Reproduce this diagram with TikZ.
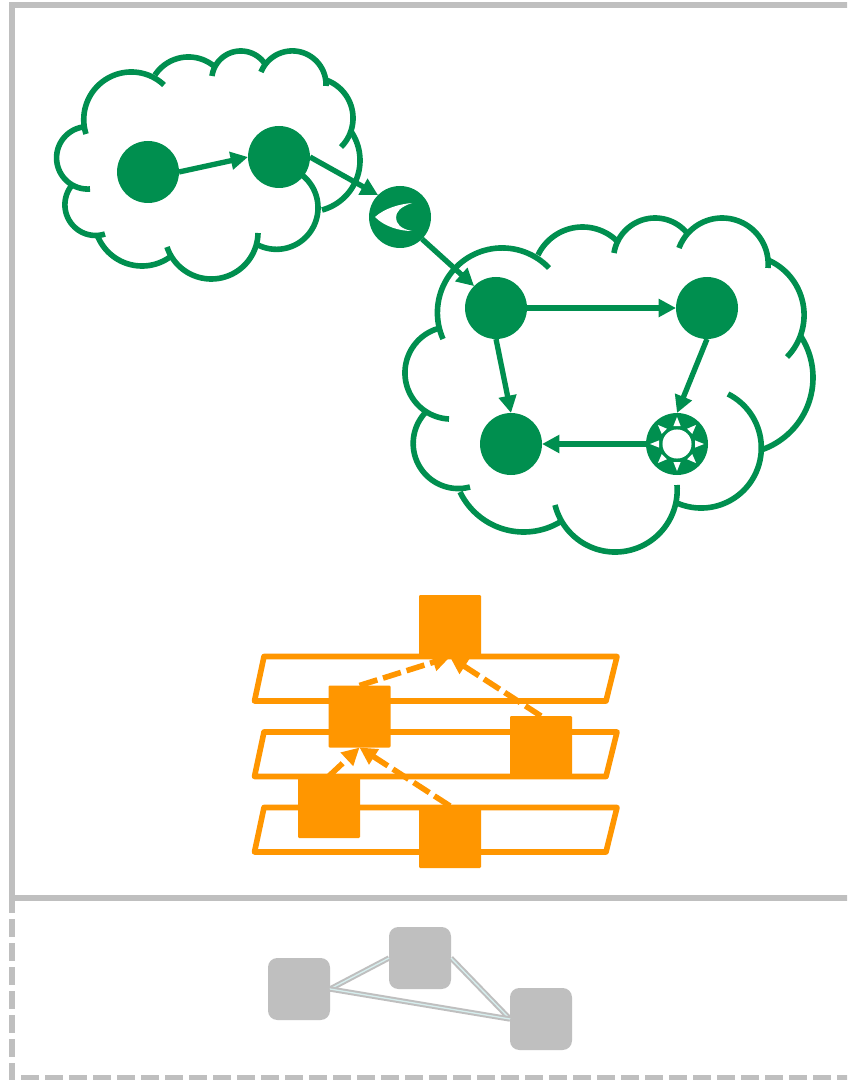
\documentclass[tikz,border=0pt]{standalone}
\usetikzlibrary{arrows.meta}
\definecolor{cgreen}{HTML}{008F4F}
\definecolor{corange}{HTML}{FF9600}
\definecolor{cgray}{HTML}{BFBFBF}
\definecolor{clink}{HTML}{D6EEEE}
\tikzset{
  x=0.75pt,y=-0.75pt,
  cloudarc/.style={draw=cgreen,line width=4.2pt,line cap=butt},
  greennode/.style={circle,fill=cgreen,minimum size=46.5pt,inner sep=0pt,outer sep=0pt},
  greenlink/.style={draw=cgreen,line width=4pt,-{Triangle[length=13pt,width=13pt]}},
  layerbox/.style={draw=corange,line width=4.2pt,line join=round},
  orangenode/.style={rectangle,fill=corange,rounded corners=0.8pt,minimum size=46.5pt,inner sep=0pt,outer sep=0pt},
  orangelink/.style={draw=corange,line width=4.2pt,dash pattern=on 14pt off 4.5pt,-{Triangle[length=13pt,width=13pt]}},
  graynode/.style={rectangle,fill=cgray,rounded corners=7pt,minimum size=46.5pt,inner sep=0pt,outer sep=0pt},
  graylink/.style={draw=cgray,line width=1.5pt,double=clink,double distance=1pt},
  frameline/.style={draw=cgray,line width=4.2pt}
}
% circular arc through three points given in pixels
\newcommand{\carc}[6]{%
  \pgfmathsetmacro{\bx}{(#3-#1)/30}%
  \pgfmathsetmacro{\by}{(#4-#2)/30}%
  \pgfmathsetmacro{\qx}{(#5-#1)/30}%
  \pgfmathsetmacro{\qy}{(#6-#2)/30}%
  \pgfmathsetmacro{\bb}{\bx*\bx+\by*\by}%
  \pgfmathsetmacro{\qq}{\qx*\qx+\qy*\qy}%
  \pgfmathsetmacro{\dd}{2*(\bx*\qy-\by*\qx)}%
  \pgfmathsetmacro{\ux}{(\qy*\bb-\by*\qq)/\dd}%
  \pgfmathsetmacro{\uy}{(\bx*\qq-\qx*\bb)/\dd}%
  \pgfmathsetmacro{\rr}{30*sqrt(\ux*\ux+\uy*\uy)}%
  \pgfmathsetmacro{\cx}{#1+30*\ux}%
  \pgfmathsetmacro{\cy}{#2+30*\uy}%
  \pgfmathsetmacro{\aone}{atan2(-\uy,-\ux)}%
  \pgfmathsetmacro{\amid}{atan2(\by-\uy,\bx-\ux)}%
  \pgfmathsetmacro{\athree}{atan2(\qy-\uy,\qx-\ux)}%
  \pgfmathsetmacro{\dm}{mod(\amid-\aone+720,360)}%
  \pgfmathsetmacro{\dt}{mod(\athree-\aone+720,360)}%
  \pgfmathsetmacro{\dt}{\dm>\dt?\dt-360:\dt}%
  \pgfmathsetmacro{\aend}{\aone+\dt}%
  \draw[cloudarc] plot[domain=\aone:\aend,samples=50,smooth] ({\cx+\rr*cos(\x)},{\cy+\rr*sin(\x)});%
}
\begin{document}
\begin{tikzpicture}
\useasboundingbox (0,0) rectangle (847,1080);
\clip (0,0) rectangle (847,1080);
\fill[white] (0,0) rectangle (847,1080);
% frames
\draw[frameline] (12,5) rectangle (870,898);
\draw[frameline,dash pattern=on 13.5pt off 4.5pt] (12,895) -- (12,1078) -- (870,1078);
% left cloud
\carc{86}{134}{130}{72}{164}{85}
\carc{155}{75}{187}{57}{215}{67}
\carc{212}{76}{240}{51}{265}{64}
\carc{261}{72}{290}{51}{326}{86}
\carc{326}{80}{353}{117}{341}{147}
\carc{350}{130}{360}{160}{322}{210}
\carc{302}{175}{318}{207}{258}{245}
\carc{258}{233}{212}{279}{167}{247}
\carc{170}{257}{143}{266}{98}{237}
\carc{105}{234}{65}{207}{73}{184}
\carc{90}{189}{57}{163}{83}{127}
% right cloud
\carc{443}{339}{505}{248}{549}{268}
\carc{538}{255}{582}{227}{618}{242}
\carc{614}{253}{655}{218}{687}{233}
\carc{679}{248}{723}{218}{768}{268}
\carc{768}{260}{804}{312}{787}{357}
\carc{800}{335}{813}{378}{761}{450}
\carc{728}{394}{752}{480}{677}{503}
\carc{677}{485}{613}{552}{555}{505}
\carc{560}{522}{523}{532}{460}{492}
\carc{470}{487}{414}{452}{425}{413}
\carc{449}{419}{405}{375}{440}{328}
% green nodes
\node[greennode] (g1) at (148,172) {};
\node[greennode] (g2) at (279,157) {};
\node[greennode] (eye) at (400,217) {};
\node[greennode] (g3) at (496,308) {};
\node[greennode] (g4) at (707,308) {};
\node[greennode] (g5) at (511,444) {};
\node[greennode] (star) at (677,444) {};
\begin{scope}[shift={(eye.center)}]
\fill[white] (-25,0) .. controls (-15,-9) and (0,-13) .. (12,-14)
  .. controls (0,-10) and (-4,-5) .. (-4,0.5)
  .. controls (-4,6) and (0,12) .. (12,14)
  .. controls (0,14) and (-15,10) .. (-25,0) -- cycle;
\end{scope}
\begin{scope}[shift={(star.center)}]
\fill[white] (0,0) circle[radius=10.9pt];
\foreach \a in {0,45,...,315}{
  \begin{scope}[rotate=\a]
  \fill[white] (27,0) -- (18,-3.6) -- (18,3.6) -- cycle;
  \end{scope}
}
\end{scope}
\draw[greenlink] (g1.east) -- (g2.west);
\draw[greenlink] (g2.east) -- (eye.north west);
\draw[greenlink] (eye.south east) -- (g3.north west);
\draw[greenlink] (g3.east) -- (g4.west);
\draw[greenlink] (g3.south) -- (g5.north);
\draw[greenlink] (g4.south) -- (star.north);
\draw[greenlink] (star.west) -- (g5.east);
% layers
\foreach \d in {0,75.5,151}{
  \draw[layerbox] (264,656.5+\d) -- (617,656.5+\d) -- (606,701+\d) -- (254.5,701+\d) -- cycle;
}
\node[orangenode] (o1) at (450,626) {};
\node[orangenode] (o2) at (359.5,716.5) {};
\node[orangenode] (o3) at (541,747) {};
\node[orangenode] (o4) at (329,807) {};
\node[orangenode] (o5) at (450,837) {};
\draw[orangelink] (o2.north) -- (o1.south);
\draw[orangelink] (o3.north) -- (o1.south);
\draw[orangelink] (o4.north) -- (o2.south);
\draw[orangelink] (o5.north) -- (o2.south);
% gray
\node[graynode] (a) at (299,989) {};
\node[graynode] (b) at (420,958) {};
\node[graynode] (c) at (541,1019) {};
\draw[graylink] (a.east) -- (b.west);
\draw[graylink] (b.east) -- (c.west);
\draw[graylink] (a.east) -- (c.west);
\end{tikzpicture}
\end{document}
